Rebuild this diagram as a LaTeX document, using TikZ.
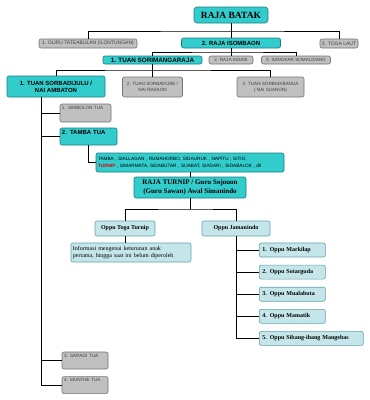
\documentclass[tikz,border=0pt]{standalone}
\usepackage{fontspec}
\setmainfont{Liberation Serif}
\setsansfont{Liberation Sans}
\usepackage{xcolor}
\definecolor{tosca}{RGB}{51,204,204}
\definecolor{toscadark}{RGB}{30,125,130}
\definecolor{pucat}{RGB}{196,230,234}
\definecolor{abu}{RGB}{192,192,192}
\usetikzlibrary{positioning}

\begin{document}
\begin{tikzpicture}[x=1pt, y=-1pt,
    boxtosca/.style={rectangle, rounded corners=2pt, draw=toscadark, fill=tosca,
      line width=0.6pt, inner sep=1pt, align=center,
      font=\sffamily\bfseries\fontsize{6}{7}\selectfont},
    boxabu/.style={rectangle, rounded corners=2pt, draw=black!55, fill=abu,
      line width=0.6pt, inner sep=1pt, align=center, text=black!75,
      font=\sffamily\fontsize{4.6}{6}\selectfont},
    boxpucat/.style={rectangle, rounded corners=2pt, draw=toscadark!70, fill=pucat,
      line width=0.6pt, inner sep=1pt, align=center,
      font=\rmfamily\bfseries\fontsize{6}{7}\selectfont},
    boxoppu/.style={boxpucat, minimum height=14pt, text width=60pt, align=left,
      inner xsep=3pt},
    link/.style={draw=black, line width=0.9pt}
]
\useasboundingbox (0,0) rectangle (370,400);

% puncak
\node[boxtosca, minimum width=74pt, minimum height=16pt, rounded corners=3pt,
  font=\rmfamily\bfseries\fontsize{9.5}{11}\selectfont] (batak) at (231,15) {RAJA BATAK};
\node[boxabu, minimum width=98pt, minimum height=9pt,
  font=\sffamily\fontsize{5}{6}\selectfont] (guru) at (88,43.5) {1. GURU TATEABULAN (ILONTUNGAN)};
\node[boxtosca, minimum width=99pt, minimum height=10pt] (isombaon) at (231,43) {2. RAJA ISOMBAON};
\node[boxabu, minimum width=38pt, minimum height=9pt,
  font=\sffamily\fontsize{5}{6}\selectfont] (toga) at (339,43.5) {3. TOGA LAUT};
\coordinate (bus1) at (231,31);

% anak isombaon
\node[boxtosca, minimum width=99pt, minimum height=8pt,
  font=\sffamily\bfseries\fontsize{6.3}{7}\selectfont] (sorim) at (152.5,60) {1. TUAN SORIMANGARAJA};
\node[boxabu, minimum width=44pt, minimum height=8pt] (asiasi) at (231,60) {2. RAJA ASIASI};
\node[boxabu, minimum width=69pt, minimum height=8pt] (sangkar) at (296,60) {3. SANGKAR SOMALIDANG};
\coordinate (bus2) at (231,52);

% anak sorimangaraja
\node[boxtosca, minimum width=98pt, minimum height=21pt] (julu) at (56,86.5) {1. TUAN SORBADIJULU /\\NAI AMBATON};
\node[boxabu, minimum width=60pt, minimum height=20pt] (jae) at (152.5,87) {2. TUAN SORBADIJAE /\\NAI RASAON};
\node[boxabu, minimum width=67pt, minimum height=20pt] (banua) at (270.5,87) {3. TUAN SORBADIBANUA\\( NAI SUANON)};
\coordinate (bus3) at (152.5,70);
\coordinate (trunk) at ([xshift=-15pt]julu.south);

% anak sorbadijulu
\node[boxabu, text width=47pt, align=left, inner xsep=2pt, text height=4pt,
  text depth=12pt] (simbolon) at (85.5,113) {1. SIMBOLON TUA};
\node[boxtosca, text width=53pt, align=left, inner xsep=2pt, text height=5pt,
  text depth=10pt] (tamba) at (88.5,136.5) {2. TAMBA TUA};
\node[boxabu, text width=42pt, align=left, inner xsep=2pt, text height=4pt,
  text depth=11pt] (saragi) at (85,360.5) {3. SARAGI TUA};
\node[boxabu, text width=42pt, align=left, inner xsep=2pt, text height=4pt,
  text depth=11pt, below=7pt of saragi] (munthe) {4. MUNTHE TUA};

% marga tamba
\node[boxtosca, text width=184pt, align=left, inner xsep=2pt, minimum height=19pt,
  font=\sffamily\fontsize{4.7}{7}\selectfont] (marga) at (190,162.5)
  {TAMBA , SIALLAGAN , RUMAHORBO, SIDAURUK , NAPITU , SITIO,\\
   \textcolor{red!85!black}{\bfseries TURNIP} , SIMARMATA, SIDABUTAR , SIJABAT, SIADARI , SIDABALOK , dll};
\node[boxtosca, minimum width=112pt, minimum height=21pt,
  font=\rmfamily\bfseries\fontsize{7}{9}\selectfont] (turnip) at (190,187.5)
  {RAJA TURNIP / Guru Sojouon\\(Guru Sawan) Awal Simanindo};
\coordinate (bus4) at (190,209);

% keturunan raja turnip
\node[boxpucat, minimum width=60pt, minimum height=15pt] (togaturnip) at (125,228.5) {Oppu Toga Turnip};
\node[boxpucat, minimum width=68pt, minimum height=15pt] (jamanindo) at (236,228.5) {Oppu Jamanindo};
\node[boxpucat, text width=116pt, align=left, inner xsep=2pt, minimum height=19pt,
  font=\rmfamily\fontsize{6}{7}\selectfont] (info) at (131,252.5)
  {Informasi mengenai keturunan anak\\pertama, hingga saat ini belum diperoleh};
\node[boxoppu, anchor=west] (o1) at (259,250) {1. Oppu Markilap};
\node[boxoppu, below right=7.5pt and 0pt of o1.south west] (o2) {2. Oppu Sotarguda};
\node[boxoppu, below right=7.5pt and 0pt of o2.south west] (o3) {3. Oppu Mualabuta};
\node[boxoppu, below right=7.5pt and 0pt of o3.south west] (o4) {4. Oppu Mamatik};
\node[boxoppu, text width=98pt, below right=7.5pt and 0pt of o4.south west] (o5) {5. Oppu Sibang-ibang Mangebas};

% garis
\draw[link] (batak.south) -- (isombaon.north);
\draw[link] (guru.north) |- (bus1) -| (toga.north);
\draw[link] (isombaon.south) -- (asiasi.north);
\draw[link] (sorim.north) |- (bus2) -| (sangkar.north);
\draw[link] (sorim.south) -- (jae.north);
\draw[link] (julu.north) |- (bus3) -| (banua.north);
\draw[link] (trunk) |- (munthe.west);
\foreach \b in {simbolon,tamba,saragi}
  \draw[link] (\b.west) -- (\b.west -| trunk);
\draw[link] (tamba.south) |- (marga.west);
\draw[link] (marga.south) -- (turnip.north);
\draw[link] (turnip.south) -- (bus4);
\draw[link] (togaturnip.north) |- (bus4) -| (jamanindo.north);
\draw[link] (togaturnip.south) -- (togaturnip.south |- info.north);
\draw[link] (jamanindo.south) |- (o5.west);
\foreach \o in {o1,o2,o3,o4}
  \draw[link] (\o.west) -- (\o.west -| jamanindo.south);
\end{tikzpicture}
\end{document}
